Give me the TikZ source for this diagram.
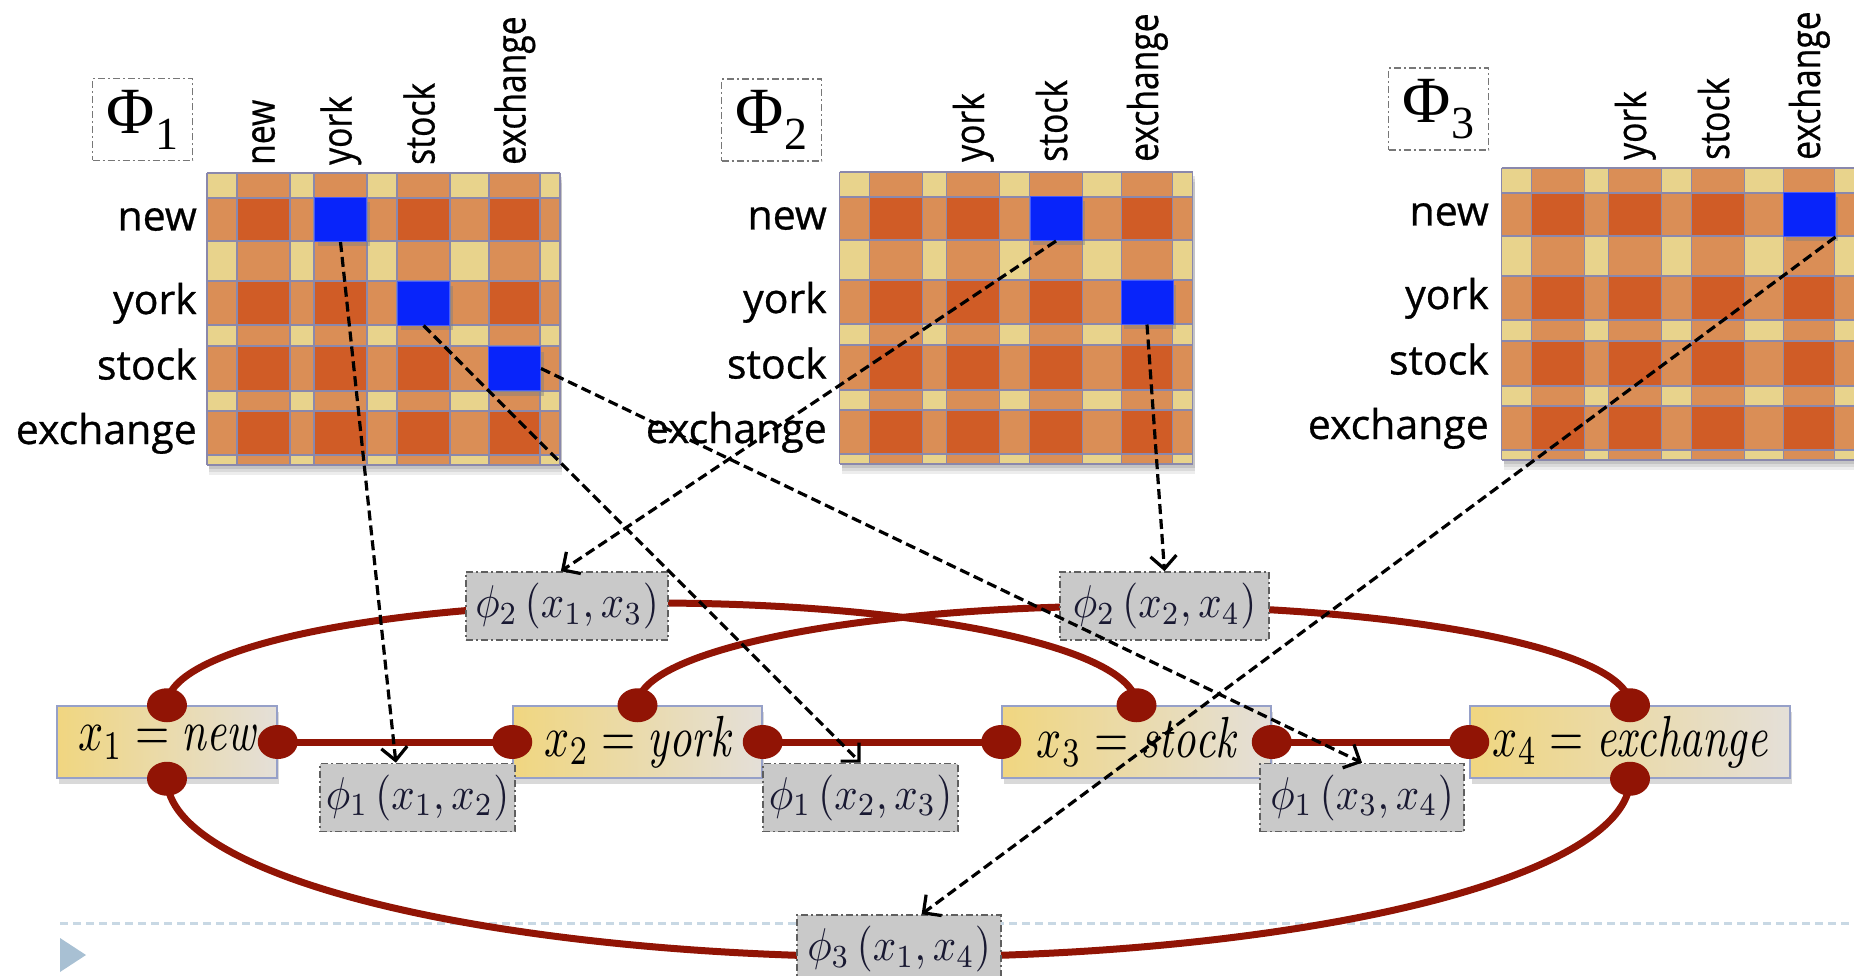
\documentclass[tikz,border=0pt]{standalone}
\usepackage{fontspec}
\newfontfamily\labelfont{Open Sans}[FakeBold=0.7]
\newfontfamily\phifont{Liberation Serif}
\usetikzlibrary{calc,arrows.meta,shadows}

\definecolor{cellLight}{RGB}{232,211,140}
\definecolor{cellMid}{RGB}{218,142,86}
\definecolor{cellDark}{RGB}{208,92,38}
\definecolor{gridLine}{RGB}{138,136,172}
\definecolor{cellBlue}{RGB}{8,36,250}
\definecolor{edgeRed}{RGB}{145,20,5}
\definecolor{varLeft}{RGB}{240,214,128}
\definecolor{varRight}{RGB}{228,223,216}
\definecolor{varBorder}{RGB}{150,160,200}
\definecolor{facFill}{RGB}{201,201,201}
\definecolor{facBorder}{RGB}{95,95,95}
\definecolor{facText}{RGB}{25,25,50}
\definecolor{slideLine}{RGB}{200,216,228}
\definecolor{slideMark}{RGB}{168,192,211}

\pgfdeclarelayer{bg}
\pgfdeclarelayer{edges}
\pgfsetlayers{bg,edges,main}

\tikzset{
  rowlabel/.style={anchor=base east, inner sep=0pt, font=\labelfont\fontsize{41}{41}\selectfont},
  collabel/.style={anchor=base west, rotate=90, inner sep=0pt, font=\labelfont\fontsize{41}{41}\selectfont},
  phibox/.style={draw=facBorder!85, line width=1.8pt, dash pattern=on 7pt off 3pt on 2pt off 3pt,
    inner sep=0pt, minimum width=100pt, minimum height=82pt},
  bluecell/.style={fill=cellBlue, draw=cellBlue!75!white, line width=1pt, inner sep=0pt,
    minimum width=52pt, minimum height=44pt,
    drop shadow={shadow xshift=3pt,shadow yshift=-5pt,opacity=0.45}},
  varbox/.style={draw=varBorder, line width=1.5pt, left color=varLeft, right color=varRight,
    minimum height=72pt, inner sep=0pt,
    drop shadow={shadow xshift=2pt,shadow yshift=-6pt,opacity=0.3}},
  facbox/.style={fill=facFill, draw=facBorder, line width=1.6pt,
    dash pattern=on 7pt off 3pt on 2pt off 3pt, minimum height=68pt, inner sep=0pt,
    text=facText},
  redge/.style={draw=edgeRed, line width=7pt},
  pointer/.style={draw=black, line width=3.2pt, dash pattern=on 10pt off 5pt,
    -{Straight Barb[length=13pt,width=26pt,line width=3.2pt]}}
}

% one coloured plaid matrix, 353 x 292, top left corner at (#1,#2)
\newcommand\plaidgrid[2]{%
\begin{scope}[shift={(#1,#2)}]
  \foreach \k/\o in {10/0.07,7/0.08,4/0.10}{\fill[black,opacity=\o] (2,\k) rectangle (355,292+\k);}
  \fill[cellLight] (0,0) rectangle (353,292);
  \foreach \a/\b in {30/83,107/160,190/243,282/333}{\fill[cellMid] (\a,0) rectangle (\b,292);}
  \foreach \a/\b in {25/68,108/152,173/218,238/282}{\fill[cellMid] (0,\a) rectangle (353,\b);}
  \foreach \a/\b in {30/83,107/160,190/243,282/333}{%
    \foreach \c/\d in {25/68,108/152,173/218,238/282}{\fill[cellDark] (\a,\c) rectangle (\b,\d);}}
  \foreach \a in {0,30,83,107,160,190,243,282,333,353}{\draw[gridLine,line width=1.2pt] (\a,0) -- (\a,292);}
  \foreach \a in {0,25,68,108,152,173,218,238,282,292}{\draw[gridLine,line width=1.2pt] (0,\a) -- (353,\a);}
\end{scope}}

\newcommand\phisym[1]{{\phifont\fontsize{66}{66}\selectfont Φ\raisebox{-16pt}{\fontsize{46}{46}\selectfont #1}}}
\newcommand\fac[3]{\scalebox{4.1}[4.6]{$\phi_{#1}\left(x_{#2},x_{#3}\right)$}}
\newcommand\varlab[2]{\scalebox{4.4}[5.8]{$x_{#1}{\;=\;}\mathit{#2}$}}
\newcommand\rdot[1]{\fill[edgeRed] (#1) ellipse [x radius=20, y radius=17];}

\begin{document}
\begin{tikzpicture}[x=1pt,y=-1pt]
\useasboundingbox (0,0) rectangle (1854,976);

% slide footer
\begin{pgfonlayer}{bg}
  \coordinate (footL) at (60,923);
  \coordinate (footR) at (1854,923);
  \draw[slideLine, line width=3pt, dash pattern=on 8pt off 5pt] (footL) -- (footR);
  \fill[slideMark] (60,938) -- (86,955) -- (60,972) -- cycle;
\end{pgfonlayer}

% ---------- the three potential tables ----------
\plaidgrid{207}{173}
\plaidgrid{839.5}{172}
\plaidgrid{1501.5}{168}

\begin{scope}[shift={(207,173)}]
  \node[bluecell] (b1a) at (133.5,46.5) {};
  \node[bluecell] (b1b) at (216.5,130) {};
  \node[bluecell] (b1c) at (307.5,195.5) {};
\end{scope}
\begin{scope}[shift={(839.5,172)}]
  \node[bluecell] (b2a) at (216.5,46.5) {};
  \node[bluecell] (b2b) at (307.5,130) {};
\end{scope}
\begin{scope}[shift={(1501.5,168)}]
  \node[bluecell] (b3a) at (307.5,46.5) {};
\end{scope}

% row labels
\node[rowlabel] (r1a) at (197,230.5) {new};
\node[rowlabel] (r1b) at (197,314) {york};
\node[rowlabel] (r1c) at (197,379.5) {stock};
\node[rowlabel] (r1d) at (197,444) {exchange};
\node[rowlabel] (r2a) at (827,229.5) {new};
\node[rowlabel] (r2b) at (827,313) {york};
\node[rowlabel] (r2c) at (827,378.5) {stock};
\node[rowlabel] (r2d) at (827,443) {exchange};
\node[rowlabel] (r3a) at (1489,225.5) {new};
\node[rowlabel] (r3b) at (1489,309) {york};
\node[rowlabel] (r3c) at (1489,374.5) {stock};
\node[rowlabel] (r3d) at (1489,439) {exchange};

% column labels
\node[collabel] (c1a) at (274.5,165) {\scalebox{0.82}[1]{new}};
\node[collabel] (c1b) at (351.5,165) {\scalebox{0.82}[1]{york}};
\node[collabel] (c1c) at (434.5,165) {\scalebox{0.82}[1]{stock}};
\node[collabel] (c1d) at (525.5,165) {\scalebox{0.82}[1]{exchange}};
\node[collabel] (c2b) at (984,162) {\scalebox{0.82}[1]{york}};
\node[collabel] (c2c) at (1067,162) {\scalebox{0.82}[1]{stock}};
\node[collabel] (c2d) at (1158,162) {\scalebox{0.82}[1]{exchange}};
\node[collabel] (c3b) at (1646,160) {\scalebox{0.82}[1]{york}};
\node[collabel] (c3c) at (1729,160) {\scalebox{0.82}[1]{stock}};
\node[collabel] (c3d) at (1820,160) {\scalebox{0.82}[1]{exchange}};

% table titles
\node[phibox] (P1) at (142.5,119.5) {\phisym{1}};
\node[phibox] (P2) at (771.5,120) {\phisym{2}};
\node[phibox] (P3) at (1438.5,109) {\phisym{3}};

% ---------- the factor graph ----------
\node[varbox, minimum width=220pt] (x1) at (167,742) {\varlab{1}{new}};
\node[varbox, minimum width=249pt] (x2) at (637.5,742) {\varlab{2}{york}};
\node[varbox, minimum width=269pt] (x3) at (1136.5,742) {\varlab{3}{stock}};
\node[varbox, minimum width=320pt] (x4) at (1630,742) {\varlab{4}{exchange}};

\coordinate (apexA) at (652,603);
\coordinate (apexB) at (1134,606);
\coordinate (apexC) at (898.5,957);

\begin{pgfonlayer}{edges}
  \draw[redge] (x1.east) -- (x2.west);
  \draw[redge] (x2.east) -- (x3.west);
  \draw[redge] (x3.east) -- (x4.west);
  \draw[redge] (x1.north) .. controls +(0,-58) and +(-268,0) .. (apexA)
                          .. controls +(268,0) and +(0,-58) .. (x3.north);
  \draw[redge] (x2.north) .. controls +(0,-55) and +(-274,0) .. (apexB)
                          .. controls +(274,0) and +(0,-55) .. (x4.north);
  \draw[redge] (x1.south) .. controls +(0,99) and +(-404,0) .. (apexC)
                          .. controls +(404,0) and +(0,99) .. (x4.south);
\end{pgfonlayer}

\rdot{x1.north}\rdot{x1.south}\rdot{x1.east}
\rdot{x2.west}\rdot{x2.north}\rdot{x2.east}
\rdot{x3.west}\rdot{x3.north}\rdot{x3.east}
\rdot{x4.west}\rdot{x4.north}\rdot{x4.south}

\node[facbox, minimum width=195pt] (f12) at (417.5,797.5) {\fac{1}{1}{2}};
\node[facbox, minimum width=195pt] (f23) at (860.5,797.5) {\fac{1}{2}{3}};
\node[facbox, minimum width=204pt] (f34) at (1362,797.5) {\fac{1}{3}{4}};
\node[facbox, minimum width=202pt] (f13) at (567,606) {\fac{2}{1}{3}};
\node[facbox, minimum width=209pt] (f24) at (1164.5,606) {\fac{2}{2}{4}};
\node[facbox, minimum width=204pt] (f14) at (899,949) {\fac{3}{1}{4}};

% table entries feeding the factors
\draw[pointer] (b1a.south) -- ($(f12.north west)!0.39!(f12.north east)$);
\draw[pointer] (b1b.south) -- (f23.north);
\draw[pointer] (b1c.east) -- (f34.north);
\draw[pointer] (b2a.south) -- ($(f13.north west)!0.47!(f13.north east)$);
\draw[pointer] (b2b.south) -- (f24.north);
\draw[pointer] (b3a.south east) -- ($(f14.north west)!0.61!(f14.north east)$);
\end{tikzpicture}
\end{document}
